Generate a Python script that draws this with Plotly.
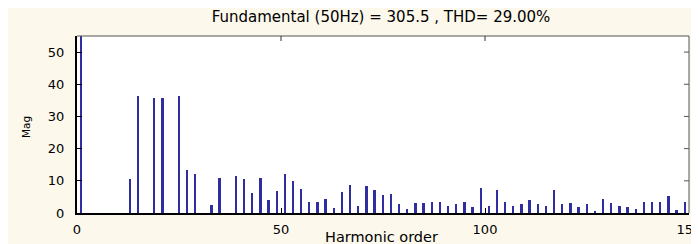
import plotly.graph_objects as go

# Harmonic spectrum data (harmonic order, magnitude in % of fundamental)
harmonics = [1, 13, 15, 19, 21, 25, 27, 29, 33, 35, 39, 41, 43, 45, 47, 49,
             51, 53, 55, 57, 59, 61, 63, 65, 67, 69, 71, 73, 75, 77, 79, 81,
             83, 85, 87, 89, 91, 93, 95, 97, 99, 101, 103, 105, 107, 109, 111,
             113, 115, 117, 119, 121, 123, 125, 127, 129, 131, 133, 135, 137,
             139, 141, 143, 145, 147, 149]
magnitudes = [100, 10.7, 36.4, 35.6, 35.6, 36.4, 13.3, 12.1, 2.6, 10.8, 11.6, 10.5, 6.1, 10.8, 4.1, 6.8,
              12.1, 9.8, 7.5, 3.5, 3.3, 4.5, 1.5, 6.5, 8.6, 2.3, 8.4, 7.2, 5.7, 5.9, 2.9, 1.3,
              3.1, 3.1, 3.3, 3.5, 2.3, 2.9, 3.3, 1.8, 7.7, 2.1, 7.0, 3.3, 2.1, 2.9, 4.0,
              2.9, 2.1, 7.2, 2.9, 3.1, 1.8, 2.9, 0.7, 4.5, 3.1, 2.1, 1.8, 1.2,
              3.3, 3.3, 3.3, 5.4, 1.0, 3.3]

x_ticks = [0, 50, 100, 150]
y_ticks = [0, 10, 20, 30, 40, 50]

title_text = "Fundamental (50Hz) = 305.5 , THD= 29.00%"
x_label = "Harmonic order"
y_label = "Mag"

CREAM = "#FCF8EC"
FONT = "DejaVu Sans"

fig = go.Figure()
fig.add_trace(go.Bar(
    x=harmonics, y=magnitudes, width=0.45,
    marker=dict(color="#2E2EA0", line=dict(width=0)),
    hoverinfo="x+y",
))

# page body has an 8px margin; figure sits at (8, 8) in the window
OFF = 8
W, H = 691, 236
L, R, T, B = 69, 10, 28, 31
pw = W - L - R
ph = H - T - B

fig.update_layout(
    width=W, height=H,
    margin=dict(l=L, r=R, t=T, b=B, pad=0, autoexpand=False),
    paper_bgcolor=CREAM,
    plot_bgcolor="white",
    showlegend=False,
    bargap=0,
    title=dict(text=title_text, x=(381 - OFF - L) / pw, xref="paper", xanchor="center",
               y=1 - 8.5 / H, yanchor="middle", automargin=False,
               font=dict(family=FONT, size=15, color="black")),
    font=dict(family=FONT, size=12, color="black"),
    xaxis=dict(range=[0, 150], tickvals=x_ticks, ticks="inside", ticklen=5,
               tickcolor="black", showgrid=False, zeroline=False,
               showline=True, linecolor="black", linewidth=2, mirror=False,
               automargin=False, ticklabeloverflow="allow", ticklabelstandoff=3,
               tickfont=dict(size=13)),
    yaxis=dict(range=[0, 55], tickvals=y_ticks, ticks="inside", ticklen=5,
               tickcolor="black", showgrid=False, zeroline=False,
               showline=True, linecolor="black", linewidth=2, mirror=False,
               automargin=False, ticklabeloverflow="allow", ticklabelstandoff=8,
               tickfont=dict(size=13)),
    annotations=[
        dict(text=x_label, xref="paper", yref="paper",
             x=(381 - OFF - L) / pw, y=-(237 - 213) / ph,
             xanchor="center", yanchor="middle", showarrow=False,
             font=dict(family=FONT, size=14.5, color="black")),
        dict(text=y_label, xref="paper", yref="paper",
             x=-(77 - 26) / pw, y=(213 - 127) / ph, textangle=-90,
             xanchor="center", yanchor="middle", showarrow=False,
             font=dict(family=FONT, size=10.5, color="black")),
    ],
    shapes=[
        # top and right frame lines
        dict(type="line", xref="paper", yref="paper", x0=0, x1=1, y0=1, y1=1,
             line=dict(color="#555555", width=1)),
        dict(type="line", xref="paper", yref="paper", x0=1, x1=1, y0=0, y1=1,
             line=dict(color="#555555", width=1)),
    ],
)

# mirrored inside ticks on top and right
for xv in x_ticks[1:-1]:
    fig.add_shape(type="line", xref="x", yref="paper", x0=xv, x1=xv, y0=1, y1=1 - 5 / ph,
                  line=dict(color="#333333", width=1))
for yv in y_ticks[1:]:
    fig.add_shape(type="line", xref="paper", yref="y", x0=1, x1=1 - 5 / pw, y0=yv, y1=yv,
                  line=dict(color="#555555", width=1))

fig.write_html("out.html")
